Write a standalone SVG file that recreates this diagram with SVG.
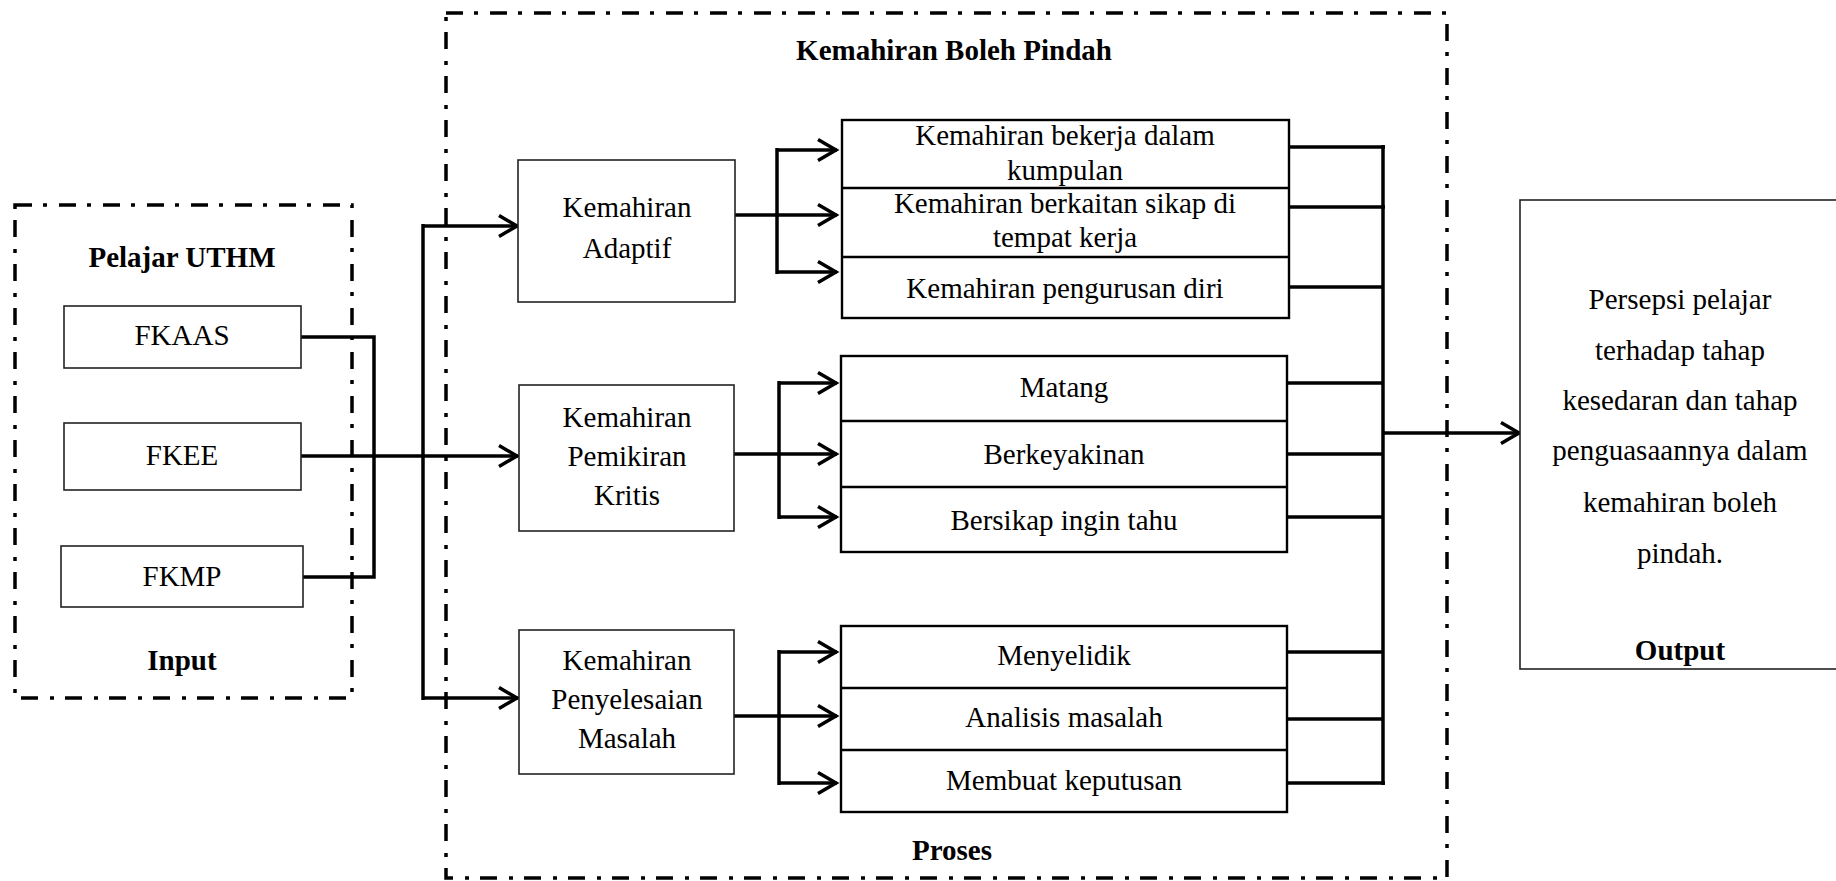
<svg xmlns="http://www.w3.org/2000/svg" width="1836" height="881" viewBox="0 0 1836 881">
<defs>
<style>
text{font-family:"Liberation Serif","Times New Roman",serif;font-size:29px;fill:#000;text-anchor:middle}
.b{font-weight:bold}
.frame{fill:none;stroke:#000;stroke-width:3.5;stroke-dasharray:17 11 4 12}
.box{fill:#fff;stroke:#222;stroke-width:1.6}
.list{fill:#fff;stroke:#000;stroke-width:2.4}
.div{stroke:#000;stroke-width:2.4}
.c{fill:none;stroke:#000;stroke-width:3.5}
.a{fill:none;stroke:#000;stroke-width:3.5;marker-end:url(#ah)}
</style>
<marker id="ah" markerUnits="userSpaceOnUse" markerWidth="30" markerHeight="30" viewBox="-25 -15 30 30" refX="0" refY="0" orient="auto">
<path d="M-19,-10.5 L-1,0 L-19,10.5" fill="none" stroke="#000" stroke-width="3.5"/>
</marker>
</defs>
<rect width="1836" height="881" fill="#fff"/>

<g id="frame-input">
<rect class="frame" x="15" y="205" width="337" height="493"/>
<text class="b" x="182" y="267">Pelajar UTHM</text>
<text class="b" x="182" y="670">Input</text>
</g>
<g id="frame-proses">
<rect class="frame" x="446" y="13" width="1001" height="865"/>
<text class="b" x="954" y="60">Kemahiran Boleh Pindah</text>
<text class="b" x="952" y="860">Proses</text>
</g>

<g id="connectors">
<polyline class="c" points="301,337 374,337 374,577 303,577"/>
<line class="a" x1="301" y1="456" x2="518" y2="456"/>
<line class="c" x1="423" y1="224" x2="423" y2="700"/>
<line class="a" x1="423" y1="226" x2="518" y2="226"/>
<line class="a" x1="423" y1="698" x2="518" y2="698"/>

<line class="c" x1="735" y1="215" x2="777" y2="215"/>
<line class="c" x1="777" y1="148" x2="777" y2="274"/>
<line class="a" x1="777" y1="150" x2="837" y2="150"/>
<line class="a" x1="777" y1="215" x2="837" y2="215"/>
<line class="a" x1="777" y1="272" x2="837" y2="272"/>

<line class="c" x1="734" y1="454" x2="779" y2="454"/>
<line class="c" x1="779" y1="381" x2="779" y2="519"/>
<line class="a" x1="779" y1="383" x2="837" y2="383"/>
<line class="a" x1="779" y1="454" x2="837" y2="454"/>
<line class="a" x1="779" y1="517" x2="837" y2="517"/>

<line class="c" x1="734" y1="716" x2="779" y2="716"/>
<line class="c" x1="779" y1="650" x2="779" y2="785"/>
<line class="a" x1="779" y1="652" x2="837" y2="652"/>
<line class="a" x1="779" y1="716" x2="837" y2="716"/>
<line class="a" x1="779" y1="783" x2="837" y2="783"/>

<line class="c" x1="1289" y1="147" x2="1385" y2="147"/>
<line class="c" x1="1289" y1="207" x2="1385" y2="207"/>
<line class="c" x1="1289" y1="287" x2="1383" y2="287"/>
<line class="c" x1="1287" y1="383" x2="1383" y2="383"/>
<line class="c" x1="1287" y1="454" x2="1383" y2="454"/>
<line class="c" x1="1287" y1="517" x2="1383" y2="517"/>
<line class="c" x1="1287" y1="652" x2="1383" y2="652"/>
<line class="c" x1="1287" y1="719" x2="1383" y2="719"/>
<line class="c" x1="1287" y1="783" x2="1385" y2="783"/>
<line class="c" x1="1383" y1="145" x2="1383" y2="785"/>
<line class="a" x1="1383" y1="433" x2="1520" y2="433"/>
</g>

<g id="fkaas">
<rect class="box" x="64" y="306" width="237" height="62"/>
<text x="182" y="345">FKAAS</text>
</g>
<g id="fkee">
<rect class="box" x="64" y="423" width="237" height="67"/>
<text x="182" y="465">FKEE</text>
</g>
<g id="fkmp">
<rect class="box" x="61" y="546" width="242" height="61"/>
<text x="182" y="586">FKMP</text>
</g>

<g id="adaptif">
<rect class="box" x="518" y="160" width="217" height="142"/>
<text x="627" y="217">Kemahiran</text>
<text x="627" y="258">Adaptif</text>
</g>
<g id="kritis">
<rect class="box" x="519" y="385" width="215" height="146"/>
<text x="627" y="427">Kemahiran</text>
<text x="627" y="466">Pemikiran</text>
<text x="627" y="505">Kritis</text>
</g>
<g id="masalah">
<rect class="box" x="519" y="630" width="215" height="144"/>
<text x="627" y="670">Kemahiran</text>
<text x="627" y="709">Penyelesaian</text>
<text x="627" y="748">Masalah</text>
</g>

<g id="list-adaptif">
<rect class="list" x="842" y="120" width="447" height="198"/>
<line class="div" x1="842" y1="188" x2="1289" y2="188"/>
<line class="div" x1="842" y1="257" x2="1289" y2="257"/>
<text x="1065" y="145">Kemahiran bekerja dalam</text>
<text x="1065" y="180">kumpulan</text>
<text x="1065" y="213">Kemahiran berkaitan sikap di</text>
<text x="1065" y="247">tempat kerja</text>
<text x="1065" y="298">Kemahiran pengurusan diri</text>
</g>
<g id="list-kritis">
<rect class="list" x="841" y="356" width="446" height="196"/>
<line class="div" x1="841" y1="421" x2="1287" y2="421"/>
<line class="div" x1="841" y1="487" x2="1287" y2="487"/>
<text x="1064" y="397">Matang</text>
<text x="1064" y="464">Berkeyakinan</text>
<text x="1064" y="530">Bersikap ingin tahu</text>
</g>
<g id="list-masalah">
<rect class="list" x="841" y="626" width="446" height="186"/>
<line class="div" x1="841" y1="688" x2="1287" y2="688"/>
<line class="div" x1="841" y1="750" x2="1287" y2="750"/>
<text x="1064" y="665">Menyelidik</text>
<text x="1064" y="727">Analisis masalah</text>
<text x="1064" y="790">Membuat keputusan</text>
</g>

<g id="output">
<rect class="box" x="1520" y="200" width="330" height="469"/>
<text x="1680" y="309">Persepsi pelajar</text>
<text x="1680" y="360">terhadap tahap</text>
<text x="1680" y="410">kesedaran dan tahap</text>
<text x="1680" y="460">penguasaannya dalam</text>
<text x="1680" y="512">kemahiran boleh</text>
<text x="1680" y="563">pindah.</text>
<text class="b" x="1680" y="660">Output</text>
</g>
</svg>
